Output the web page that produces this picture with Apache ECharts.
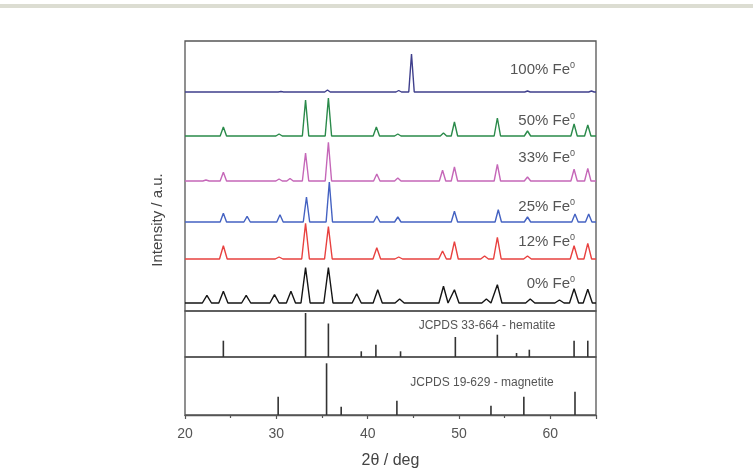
<!DOCTYPE html>
<html>
<head>
<meta charset="utf-8">
<script src="https://cdn.jsdelivr.net/npm/echarts@6/dist/echarts.min.js"></script>
<style>
  html, body { margin: 0; padding: 0; background: #fff; }
  #main { width: 753px; height: 475px; }
</style>
</head>
<body>
<div id="main"></div>
<script>
var myChart = echarts.init(document.getElementById('main'));

var xMin = 20, xMax = 65;
var xTicks = [20, 30, 40, 50, 60];

// XRD patterns: [2theta, peak height above the trace baseline]
var traceNames = ['0% Fe', '12% Fe', '25% Fe', '33% Fe', '50% Fe', '100% Fe'];
var traceColors = ['#151515', '#e8413f', '#4462c2', '#c567b8', '#2a8a4a', '#3f3f8c'];
var traceOffsets = [8, 52, 89, 130, 175, 219];
var traceHalfWidth = [0.5, 0.42, 0.35, 0.35, 0.35, 0.3];

var peaks0 = [[22.4, 7.7], [24.2, 11.7], [26.7, 7.7], [29.8, 8.3], [31.6, 11.7], [33.2, 35.3],
  [35.7, 35.3], [38.8, 9.3], [41.1, 13.3], [43.5, 4], [48.3, 16.7], [49.5, 13.3], [53.0, 4],
  [54.2, 18.3], [57.8, 4], [61.0, 3], [62.6, 14.3], [64.1, 13.7]];
var peaks12 = [[24.2, 13.3], [30.3, 2], [33.2, 35.7], [35.7, 32.3], [41.0, 11.3], [43.4, 2],
  [48.2, 8], [49.5, 17.3], [52.8, 3], [54.2, 21.7], [57.5, 3], [62.6, 13.3], [64.1, 15.7]];
var peaks25 = [[24.2, 8.7], [26.8, 5.7], [30.4, 7.3], [33.3, 25], [35.8, 40], [41.0, 6],
  [43.3, 5], [49.5, 10.7], [54.3, 12.3], [57.5, 5], [62.7, 8], [64.2, 8]];
var peaks33 = [[22.3, 1], [24.2, 8.7], [30.3, 2], [31.5, 2.5], [33.2, 28], [35.7, 38.7],
  [41.0, 7], [43.3, 3], [48.2, 10.7], [49.5, 14], [54.2, 16.7], [57.5, 4], [62.6, 11.7], [64.1, 12.7]];
var peaks50 = [[24.2, 9], [30.3, 2], [33.2, 36], [35.7, 38], [40.95, 9], [43.3, 2],
  [48.3, 3], [49.5, 14], [54.2, 18], [57.5, 5], [62.6, 12], [64.1, 11]];
var peaks100 = [[30.5, 0.5], [35.6, 2], [43.4, 1.5], [44.8, 38], [57.5, 1], [64.5, 1]];
var tracePeaks = [peaks0, peaks12, peaks25, peaks33, peaks50, peaks100];

// reference cards: [2theta, stick height]
var hematiteSticks = [[24.2, 16.3], [33.2, 44], [35.7, 33.5], [39.3, 5.7], [40.9, 12.3], [43.6, 5.7],
  [49.6, 20], [54.2, 22.3], [56.3, 4], [57.7, 7.3], [62.6, 16.3], [64.1, 16.3]];
var magnetiteSticks = [[30.2, 18.3], [35.5, 51.7], [37.1, 8.3], [43.2, 14.3], [53.5, 9.3],
  [57.1, 18.3], [62.7, 23.3]];

var labelY = [284, 242, 207, 158, 121, 70];

function buildTrace(peaks, offset, hw) {
  var pts = [[xMin, offset]];
  peaks.forEach(function (p) {
    pts.push([p[0] - hw, offset], [p[0], offset + p[1]], [p[0] + hw, offset]);
  });
  pts.push([xMax, offset]);
  return pts;
}

var font = '"Liberation Sans", Arial, sans-serif';
var frame = { show: true, borderColor: '#555', borderWidth: 1.3, backgroundColor: 'transparent' };

var series = [];
for (var i = 0; i < traceNames.length; i++) {
  series.push({
    name: traceNames[i],
    type: 'line',
    xAxisIndex: 0,
    yAxisIndex: 0,
    showSymbol: false,
    symbol: 'none',
    animation: false,
    lineStyle: { color: traceColors[i], width: 1.4 },
    data: buildTrace(tracePeaks[i], traceOffsets[i], traceHalfWidth[i])
  });
}
series.push({
  name: 'hematite', type: 'bar', xAxisIndex: 1, yAxisIndex: 1,
  barWidth: 1.6, itemStyle: { color: '#333' }, animation: false, data: hematiteSticks
});
series.push({
  name: 'magnetite', type: 'bar', xAxisIndex: 2, yAxisIndex: 2,
  barWidth: 1.6, itemStyle: { color: '#333' }, animation: false, data: magnetiteSticks
});

var graphics = [
  { type: 'rect', shape: { x: 0, y: 4, width: 753, height: 4 }, style: { fill: '#dcddd2' } },
  {
    type: 'text', x: 158, y: 220, rotation: Math.PI / 2,
    style: { text: 'Intensity / a.u.', font: '15px ' + font, fill: '#444', textAlign: 'center', textVerticalAlign: 'middle' }
  },
  {
    type: 'text', x: 487, y: 326,
    style: { text: 'JCPDS 33-664 - hematite', font: '12px ' + font, fill: '#555', textAlign: 'center', textVerticalAlign: 'middle' }
  },
  {
    type: 'text', x: 482, y: 383,
    style: { text: 'JCPDS 19-629 - magnetite', font: '12px ' + font, fill: '#555', textAlign: 'center', textVerticalAlign: 'middle' }
  }
];
for (var k = 0; k < traceNames.length; k++) {
  graphics.push({
    type: 'text', x: 575, y: labelY[k],
    style: {
      text: '{a|' + traceNames[k] + '}{s|0}',
      fill: '#555',
      textAlign: 'right', textVerticalAlign: 'middle',
      rich: {
        a: { fontSize: 15, fontFamily: font, fill: '#555' },
        s: { fontSize: 9, fontFamily: font, fill: '#555', verticalAlign: 'top', padding: [0, 0, 8, 0] }
      }
    }
  });
}

var hiddenX = function (idx) {
  return {
    type: 'value', gridIndex: idx, min: xMin, max: xMax, interval: 10, show: false,
    splitLine: { show: false }
  };
};
var hiddenY = function (idx, max) {
  return { type: 'value', gridIndex: idx, min: 0, max: max, show: false, splitLine: { show: false } };
};

option = {
  backgroundColor: '#fff',
  animation: false,
  grid: [
    Object.assign({ left: 185, right: 157, top: 41, height: 270 }, frame),
    Object.assign({ left: 185, right: 157, top: 311, height: 46 }, frame),
    Object.assign({ left: 185, right: 157, top: 357, height: 58 }, frame)
  ],
  xAxis: [
    hiddenX(0),
    hiddenX(1),
    {
      type: 'value', gridIndex: 2, min: xMin, max: xMax, interval: 10,
      axisLine: { show: true, lineStyle: { color: '#555', width: 1.3 } },
      axisTick: { show: true, inside: false, length: 4, lineStyle: { color: '#555', width: 1.2 } },
      minorTick: { show: true, splitNumber: 2, length: 3, lineStyle: { color: '#555', width: 1.2 } },
      splitLine: { show: false },
      axisLabel: {
        fontSize: 14, fontFamily: font, color: '#555', margin: 12,
        formatter: function (v) { return xTicks.indexOf(v) >= 0 ? String(v) : ''; }
      },
      name: '2θ / deg', nameLocation: 'middle', nameGap: 38,
      nameTextStyle: { fontSize: 16, fontFamily: font, color: '#444' }
    }
  ],
  yAxis: [hiddenY(0, 270), hiddenY(1, 46), hiddenY(2, 58)],
  graphic: graphics,
  series: series
};

myChart.setOption(option);
</script>
</body>
</html>
